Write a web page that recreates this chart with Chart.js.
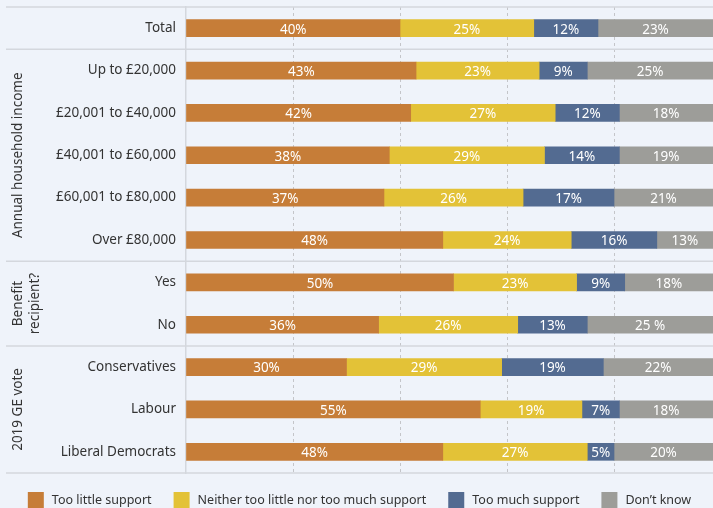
<!DOCTYPE html>
<html>
<head>
<meta charset="utf-8">
<script src="https://cdn.jsdelivr.net/npm/chart.js@4.4.1/dist/chart.umd.min.js"></script>
<style>
  html, body { margin: 0; padding: 0; background: #eff3fa; overflow: hidden; }
  #wrap { width: 713px; height: 508px; position: relative; }
</style>
</head>
<body>
<div id="wrap"><canvas id="chart"></canvas></div>
<script>
// --- DATA ---
const categories = ['Total', 'Up to £20,000', '£20,001 to £40,000', '£40,001 to £60,000',
  '£60,001 to £80,000', 'Over £80,000', 'Yes', 'No', 'Conservatives', 'Labour', 'Liberal Democrats'];
const tooLittle = [40, 43, 42, 38, 37, 48, 50, 36, 30, 55, 48];
const neither   = [25, 23, 27, 29, 26, 24, 23, 26, 29, 19, 27];
const tooMuch   = [12, 9, 12, 14, 17, 16, 9, 13, 19, 7, 5];
const dontKnow  = [23, 25, 18, 19, 21, 13, 18, 25, 22, 18, 20];
const seriesNames = ['Too little support', 'Neither too little nor too much support', 'Too much support', 'Don’t know'];
const seriesColors = ['#c67d38', '#e3c237', '#536b91', '#9d9d99'];
const gridTicks = [20, 40, 60, 80];

// label text that isn't just "n%" (dataset index - row index)
const labelOverrides = { '3-7': '25 %' };

// group headings on the left: text lines + first/last row
const groups = [
  { lines: ['Annual household income'], from: 1, to: 5 },
  { lines: ['Benefit', 'recipient?'], from: 6, to: 7 },
  { lines: ['2019 GE vote'], from: 8, to: 10 }
];

const FONT = '"Noto Sans", "Open Sans", sans-serif';
const TEXT_COLOR = '#333';
const LINE_COLOR = '#d4d7dd';

// --- PLUGINS ---
const decorations = {
  id: 'decorations',
  afterDatasetsDraw(chart) {
    const { ctx, chartArea, scales: { y } } = chart;
    ctx.save();

    // value labels in the middle of each segment
    ctx.font = '13.5px ' + FONT;
    ctx.fillStyle = '#ffffff';
    ctx.textAlign = 'center';
    ctx.textBaseline = 'middle';
    chart.data.datasets.forEach((ds, di) => {
      chart.getDatasetMeta(di).data.forEach((bar, i) => {
        const left = Math.min(bar.base, bar.x);
        const right = Math.min(Math.max(bar.base, bar.x), chartArea.right);
        const text = labelOverrides[di + '-' + i] || ds.data[i] + '%';
        ctx.fillText(text, (left + right) / 2, bar.y + 1.5);
      });
    });

    // horizontal separators: top, between groups, bottom
    const half = (y.getPixelForValue(1) - y.getPixelForValue(0)) / 2;
    const seps = [chartArea.top, chartArea.bottom];
    groups.forEach(g => seps.push(y.getPixelForValue(g.from) - half));
    ctx.strokeStyle = LINE_COLOR;
    ctx.lineWidth = 1.5;
    seps.forEach(py => {
      ctx.beginPath();
      ctx.moveTo(6, py);
      ctx.lineTo(chart.width, py);
      ctx.stroke();
    });

    // rotated group headings
    ctx.fillStyle = TEXT_COLOR;
    ctx.font = '13.5px ' + FONT;
    groups.forEach(g => {
      const yc = (y.getPixelForValue(g.from) + y.getPixelForValue(g.to)) / 2;
      g.lines.forEach((line, li) => {
        ctx.save();
        ctx.translate(18 + li * 17, yc);
        ctx.rotate(-Math.PI / 2);
        ctx.fillText(line, 0, 0);
        ctx.restore();
      });
    });
    ctx.restore();
  },
  afterDraw(chart) {
    // legend row along the bottom
    const { ctx } = chart;
    ctx.save();
    ctx.font = '12.5px ' + FONT;
    ctx.textBaseline = 'middle';
    ctx.textAlign = 'left';
    const box = 16, gap = 8, spacing = 22;
    const widths = seriesNames.map(n => box + gap + ctx.measureText(n).width);
    const total = widths.reduce((a, b) => a + b, 0) + spacing * (widths.length - 1);
    let x = (chart.width - total) / 2 + 3;
    const top = 492;
    chart.data.datasets.forEach((ds, i) => {
      ctx.fillStyle = ds.backgroundColor;
      ctx.fillRect(x, top, box, box);
      ctx.fillStyle = TEXT_COLOR;
      ctx.fillText(ds.label, x + box + gap, top + 8);
      x += widths[i] + spacing;
    });
    ctx.restore();
  }
};

// --- CHART ---
const seriesValues = [tooLittle, neither, tooMuch, dontKnow];

new Chart(document.getElementById('chart'), {
  type: 'bar',
  data: {
    labels: categories,
    datasets: seriesValues.map((vals, i) => ({
      label: seriesNames[i],
      data: vals,
      backgroundColor: seriesColors[i],
      borderWidth: 0,
      barThickness: 17
    }))
  },
  options: {
    indexAxis: 'y',
    responsive: true,
    maintainAspectRatio: false,
    animation: false,
    layout: { padding: { top: 7, bottom: 35, left: 0, right: 0 } },
    plugins: {
      legend: { display: false },
      tooltip: { enabled: false }
    },
    scales: {
      x: {
        stacked: true,
        min: 0,
        max: 98.5,
        ticks: { display: false, stepSize: 20 },
        grid: {
          drawTicks: false,
          color: c => gridTicks.includes(c.tick && c.tick.value) ? '#c4c5c9' : 'transparent',
          lineWidth: 1
        },
        // v4 takes the grid line dash from border.dash
        border: { display: false, dash: [3, 3] }
      },
      y: {
        stacked: true,
        afterFit: s => {
          s.width = 186;
          // labels sit inside their rows, no extra room needed above/below
          s.paddingTop = 0;
          s.paddingBottom = 0;
        },
        ticks: { color: TEXT_COLOR, font: { family: FONT, size: 13.5 }, padding: 10 },
        grid: { display: false, drawTicks: false },
        border: { display: true, color: LINE_COLOR, width: 1.5 }
      }
    }
  },
  plugins: [decorations]
});
</script>
</body>
</html>
